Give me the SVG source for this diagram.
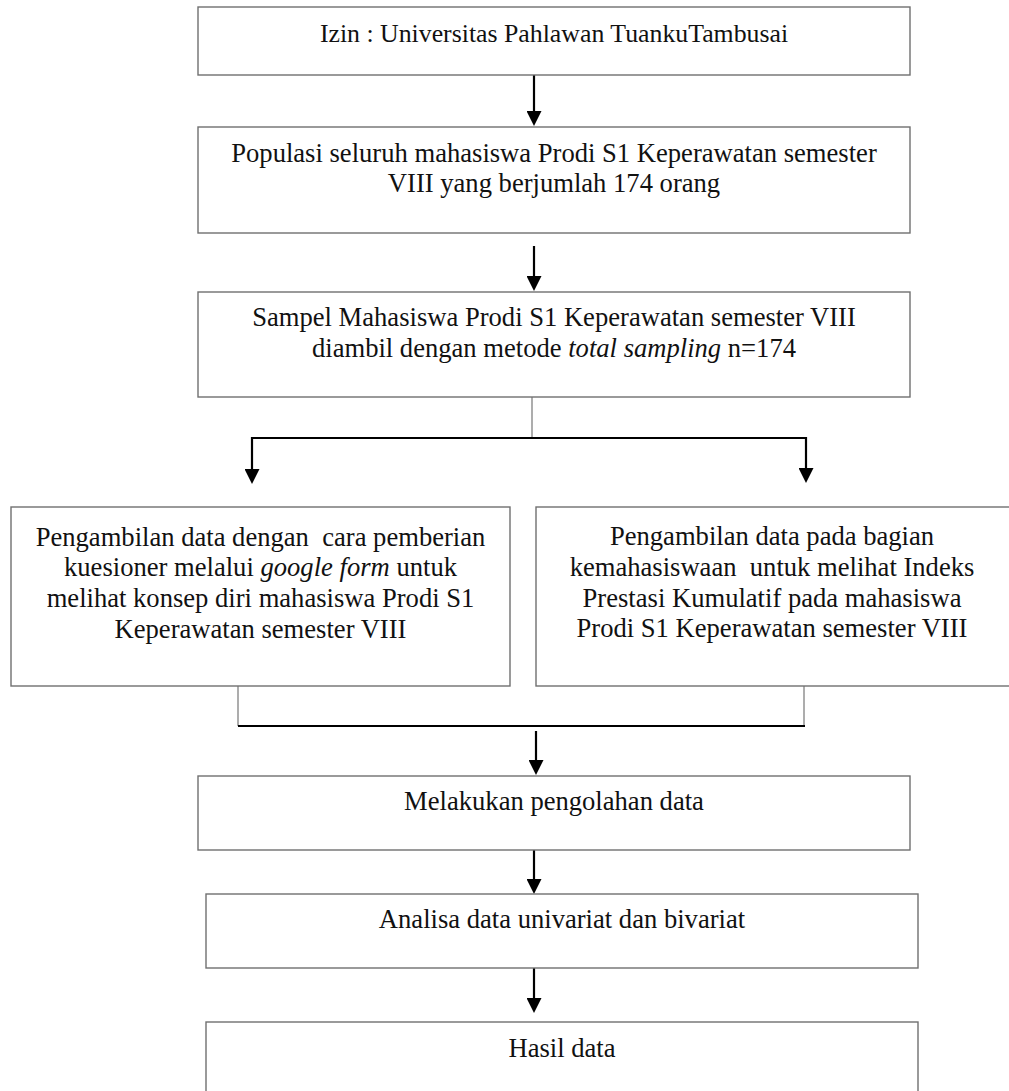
<svg xmlns="http://www.w3.org/2000/svg" width="1009" height="1091" viewBox="0 0 1009 1091">
  <style>
    .box { fill: #ffffff; stroke: #707070; stroke-width: 1.4; }
    .lbl { font-family: "Liberation Serif", "Times New Roman", serif; font-size: 26.6px; fill: #111111; text-anchor: middle; }
    .it { font-style: italic; }
    .arrow { fill: none; stroke: #000000; stroke-width: 2.2; }
    .bar { fill: none; stroke: #000000; stroke-width: 2.2; }
    .thin { fill: none; stroke: #8a8a8a; stroke-width: 1.4; }
  </style>
  <defs>
    <marker id="head" markerUnits="userSpaceOnUse" markerWidth="15" markerHeight="15" refX="4" refY="7.5" orient="auto">
      <path d="M0,0 L15,7.5 L0,15 z" fill="#000000"/>
    </marker>
  </defs>

  <rect width="1009" height="1091" fill="#ffffff"/>

  <!-- connectors -->
  <g id="connectors">
    <line class="arrow" x1="534" y1="75" x2="534" y2="115" marker-end="url(#head)"/>
    <line class="arrow" x1="534" y1="246" x2="534" y2="280" marker-end="url(#head)"/>
    <!-- split into two branches -->
    <line class="thin" x1="532" y1="397" x2="532" y2="437"/>
    <path class="bar" d="M252,438 H806"/>
    <line class="arrow" x1="252" y1="437" x2="252" y2="473" marker-end="url(#head)"/>
    <line class="arrow" x1="806" y1="437" x2="806" y2="472" marker-end="url(#head)"/>
    <!-- merge of the two branches -->
    <line class="thin" x1="238" y1="686" x2="238" y2="726"/>
    <line class="thin" x1="804" y1="686" x2="804" y2="726"/>
    <path class="bar" d="M238,726 H805"/>
    <line class="arrow" x1="536" y1="731" x2="536" y2="764" marker-end="url(#head)"/>
    <line class="arrow" x1="534" y1="850" x2="534" y2="883" marker-end="url(#head)"/>
    <line class="arrow" x1="534" y1="968" x2="534" y2="1002" marker-end="url(#head)"/>
  </g>

  <g id="izin">
    <rect class="box" x="198" y="7" width="712" height="68"/>
    <text class="lbl" x="554" y="42" style="font-size:25.8px">Izin : Universitas Pahlawan TuankuTambusai</text>
  </g>

  <g id="populasi">
    <rect class="box" x="198" y="127" width="712" height="106"/>
    <text class="lbl" x="554" y="162">Populasi seluruh mahasiswa Prodi S1 Keperawatan semester</text>
    <text class="lbl" x="554" y="192">VIII yang berjumlah 174 orang</text>
  </g>

  <g id="sampel">
    <rect class="box" x="198" y="292" width="712" height="105"/>
    <text class="lbl" x="554" y="326">Sampel Mahasiswa Prodi S1 Keperawatan semester VIII</text>
    <text class="lbl" x="554" y="357">diambil dengan metode <tspan class="it">total sampling</tspan> n=174</text>
  </g>

  <g id="kuesioner">
    <rect class="box" x="11" y="507" width="499" height="179"/>
    <text class="lbl" x="260.5" y="546" xml:space="preserve">Pengambilan data dengan  cara pemberian</text>
    <text class="lbl" x="260.5" y="576">kuesioner melalui <tspan class="it">google form</tspan> untuk</text>
    <text class="lbl" x="260.5" y="607">melihat konsep diri mahasiswa Prodi S1</text>
    <text class="lbl" x="260.5" y="638">Keperawatan semester VIII</text>
  </g>

  <g id="kemahasiswaan">
    <rect class="box" x="536" y="507" width="474" height="179"/>
    <text class="lbl" x="772" y="545">Pengambilan data pada bagian</text>
    <text class="lbl" x="772" y="576" xml:space="preserve">kemahasiswaan  untuk melihat Indeks</text>
    <text class="lbl" x="772" y="607">Prestasi Kumulatif pada mahasiswa</text>
    <text class="lbl" x="772" y="637">Prodi S1 Keperawatan semester VIII</text>
  </g>

  <g id="pengolahan">
    <rect class="box" x="198" y="776" width="712" height="74"/>
    <text class="lbl" x="554" y="810">Melakukan pengolahan data</text>
  </g>

  <g id="analisa">
    <rect class="box" x="206" y="894" width="712" height="74"/>
    <text class="lbl" x="562" y="928">Analisa data univariat dan bivariat</text>
  </g>

  <g id="hasil">
    <rect class="box" x="206" y="1022" width="712" height="90"/>
    <text class="lbl" x="562" y="1057">Hasil data</text>
  </g>
</svg>
